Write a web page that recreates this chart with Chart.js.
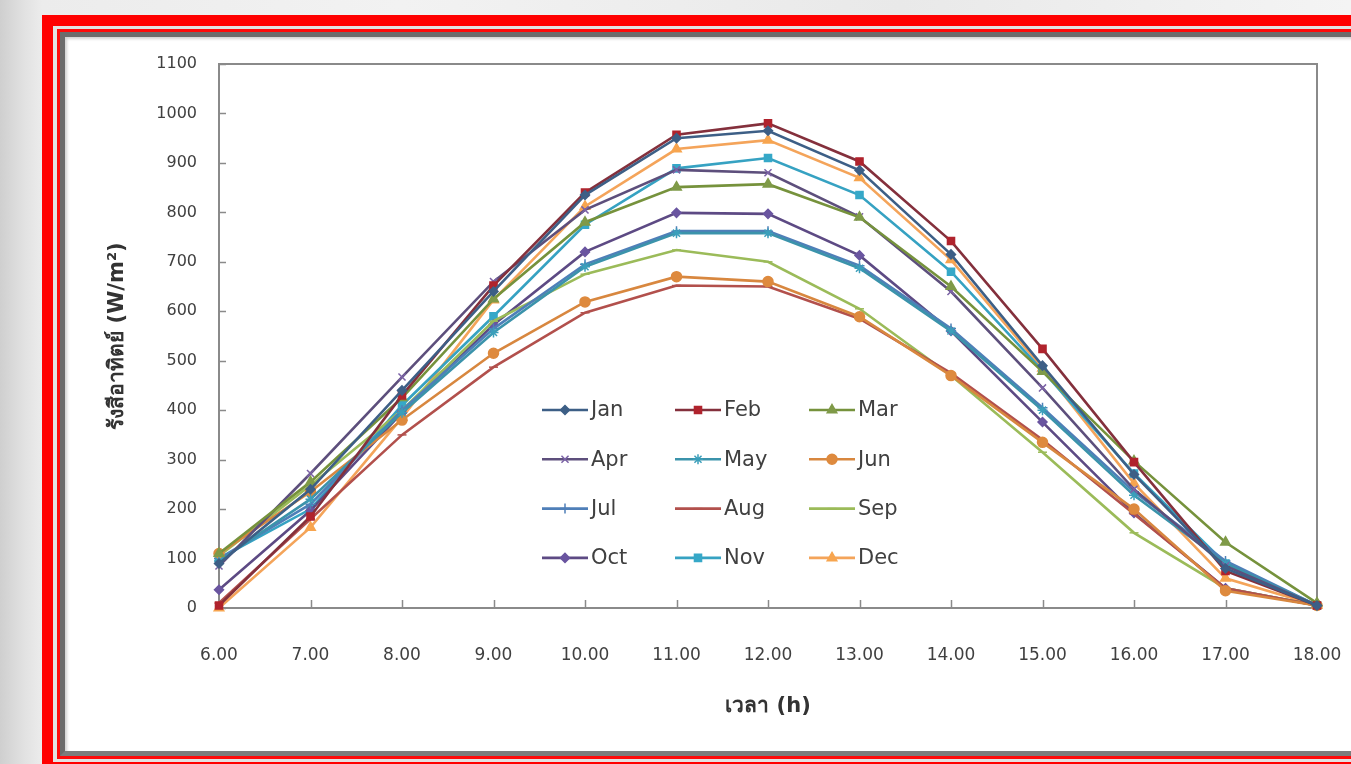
<!DOCTYPE html>
<html>
<head>
<meta charset="utf-8">
<title>รังสีอาทิตย์รายชั่วโมง</title>
<script src="https://cdn.jsdelivr.net/npm/chart.js@4/dist/chart.umd.min.js"></script>
<style>
  html, body { margin: 0; padding: 0; }
  body {
    width: 1351px; height: 764px; overflow: hidden; position: relative;
    background: linear-gradient(90deg, #cfcfcf 0px, #e2e2e2 25px, #ececec 42px, #f2f2f2 400px, #e9e9e9 900px, #f4f4f4 1351px);
  }
  #f1 {
    position: absolute; left: 42px; top: 15px; width: 1400px; height: 758px;
    box-sizing: border-box; border: 11px solid #ff0000; background: #e2e2e2; padding: 3px 4px;
  }
  #f2 { box-sizing: border-box; width: 100%; height: 100%; border: 3px solid #ff0a0a; }
  #f3 {
    box-sizing: border-box; width: 100%; height: 100%; background: #ffffff;
    border: 5px solid #808080; border-color: #6c6c6c #9a9a9a #7c7c7c #6c6c6c;
    box-shadow: inset 2px 2px 3px rgba(0,0,0,0.18);
  }
  #chart { position: absolute; left: 0; top: 0; z-index: 2; }
</style>
</head>
<body>
<div id="f1"><div id="f2"><div id="f3"></div></div></div>
<canvas id="chart" width="1351" height="764"></canvas>
<script>
// Hour of day (category axis)
const hours = ['6.00','7.00','8.00','9.00','10.00','11.00','12.00','13.00','14.00','15.00','16.00','17.00','18.00'];
// Y axis range / step (W/m²)
const yMin = 0, yMax = 1100, yStep = 100;

const months = ['Jan','Feb','Mar','Apr','May','Jun','Jul','Aug','Sep','Oct','Nov','Dec'];

// Average solar radiation per hour, W/m²
const jan = [ 90, 240, 440, 640, 835, 950, 965, 885, 715, 490, 270,  80,  5];
const feb = [  5, 185, 430, 652, 840, 957, 980, 903, 742, 524, 295,  75,  5];
const mar = [110, 255, 425, 625, 780, 851, 857, 790, 650, 478, 297, 133, 10];
const apr = [ 85, 272, 467, 660, 805, 886, 880, 791, 640, 445, 240,  85,  5];
const may = [ 95, 220, 395, 557, 690, 758, 758, 687, 560, 400, 228,  90,  5];
const jun = [110, 235, 380, 515, 619, 670, 660, 589, 470, 335, 200,  35,  5];
const jul = [100, 210, 400, 565, 695, 762, 762, 692, 565, 405, 235,  95,  5];
const aug = [ 10, 180, 350, 487, 597, 652, 650, 585, 475, 340, 190,  40,  5];
const sep = [105, 248, 400, 580, 675, 724, 700, 605, 470, 315, 152,  40,  5];
const oct = [ 37, 197, 395, 573, 720, 799, 797, 713, 560, 376, 192,  40,  5];
const nov = [100, 200, 410, 590, 775, 889, 910, 835, 680, 480, 272,  90,  5];
const dec = [  0, 163, 385, 623, 812, 928, 946, 870, 704, 485, 252,  60,  5];

const series = [jan, feb, mar, apr, may, jun, jul, aug, sep, oct, nov, dec];

// Line colour, marker colour, marker shape for each month
const lineColors   = ['#3d5f86','#84303c','#76923c','#5d4f7c','#3b93ab','#d8873f','#4f7fb8','#b2504c','#9bbb59','#5d4a84','#36a2c2','#f4a45a'];
const markerColors = ['#3d5f86','#b0232d','#7f9a48','#7b62a6','#3b9fbb','#de8a3e','#4f7fb8','#b2504c','#9bbb59','#6a55a0','#36a8c8','#f7a54f'];
const markerShapes = ['rectRot','rect','triangle','crossRot','star','circle','cross','line','line','rectRot','rect','triangle'];
const markerSizes  = [4.5, 5, 5.5, 5, 5, 5, 5, 4.5, 4.5, 4.5, 5, 5.5];

const textColor = '#404040';
const fontFam = '"DejaVu Sans", "Noto Sans", sans-serif';

const datasets = months.map((m, i) => ({
  label: m,
  data: series[i],
  borderColor: lineColors[i],
  backgroundColor: markerColors[i],
  pointBackgroundColor: markerColors[i],
  pointBorderColor: markerColors[i],
  pointStyle: markerShapes[i],
  pointRadius: markerSizes[i],
  pointBorderWidth: 1.5,
  borderWidth: 2.6,
  tension: 0,
  clip: false
}));

// Plot frame plus short inward tick marks on both axes
const frameAndTicks = {
  id: 'frameAndTicks',
  beforeDatasetsDraw(chart) {
    const {ctx, chartArea: a, scales: {x, y}} = chart;
    ctx.save();
    ctx.strokeStyle = '#8a8a8a';
    ctx.lineWidth = 2;
    ctx.strokeRect(a.left, a.top, a.right - a.left, a.bottom - a.top);
    ctx.lineWidth = 1.5;
    ctx.beginPath();
    for (let v = yMin; v <= yMax; v += yStep) {
      const py = Math.round(y.getPixelForValue(v)) + 0.5;
      ctx.moveTo(a.left, py); ctx.lineTo(a.left + 7, py);
    }
    hours.forEach((h, i) => {
      const px = Math.round(x.getPixelForValue(i)) + 0.5;
      ctx.moveTo(px, a.bottom); ctx.lineTo(px, a.bottom - 8);
    });
    ctx.stroke();
    ctx.restore();
  }
};

// Three-column legend placed inside the plot
const gridLegend = {
  id: 'gridLegend',
  afterDatasetsDraw(chart) {
    const {ctx} = chart;
    const colX = [542, 675, 809];
    const rowY0 = 410, rowGap = 49.3, segLen = 46;
    ctx.save();
    chart.data.datasets.forEach((ds, i) => {
      const x0 = colX[i % 3];
      const yy = rowY0 + Math.floor(i / 3) * rowGap;
      ctx.strokeStyle = ds.borderColor;
      ctx.lineWidth = ds.borderWidth;
      ctx.beginPath(); ctx.moveTo(x0, yy); ctx.lineTo(x0 + segLen, yy); ctx.stroke();
      ctx.fillStyle = ds.pointBackgroundColor;
      ctx.strokeStyle = ds.pointBorderColor;
      ctx.lineWidth = ds.pointBorderWidth;
      Chart.helpers.drawPoint(ctx, {pointStyle: ds.pointStyle, radius: ds.pointRadius, rotation: 0, borderWidth: ds.pointBorderWidth}, x0 + segLen / 2, yy);
      ctx.fillStyle = textColor;
      ctx.font = '21px ' + fontFam;
      ctx.textBaseline = 'middle';
      ctx.textAlign = 'left';
      ctx.fillText(ds.label, x0 + segLen + 3, yy + 1);
    });
    ctx.restore();
  }
};

new Chart(document.getElementById('chart'), {
  type: 'line',
  data: { labels: hours, datasets },
  options: {
    responsive: false,
    animation: false,
    events: [],
    devicePixelRatio: 1,
    layout: { padding: { top: 64, right: 34, bottom: 0, left: 0 } },
    plugins: { legend: { display: false }, tooltip: { enabled: false } },
    scales: {
      x: {
        type: 'category',
        offset: false,
        grid: { display: false, drawTicks: false },
        border: { display: false },
        ticks: { color: textColor, font: { family: fontFam, size: 17 }, padding: 37, maxRotation: 0, autoSkip: false },
        title: { display: true, text: 'เวลา (h)', color: '#333333', font: { family: fontFam, size: 21, weight: 'bold' }, padding: { top: 0, bottom: 45 } },
        afterFit(s) { s.height = 156; s.paddingLeft = 0; s.paddingRight = 0; }
      },
      y: {
        min: yMin, max: yMax,
        grid: { display: false, drawTicks: false },
        border: { display: false },
        ticks: { stepSize: yStep, color: textColor, font: { family: fontFam, size: 16 }, padding: 22, callback: (v) => String(v) },
        title: { display: true, text: 'รังสีอาทิตย์ (W/m²)', color: '#333333', font: { family: fontFam, size: 21, weight: 'bold' }, padding: { top: 105, bottom: 0 } },
        afterFit(s) { s.width = 219; }
      }
    }
  },
  plugins: [frameAndTicks, gridLegend]
});
</script>
</body>
</html>
